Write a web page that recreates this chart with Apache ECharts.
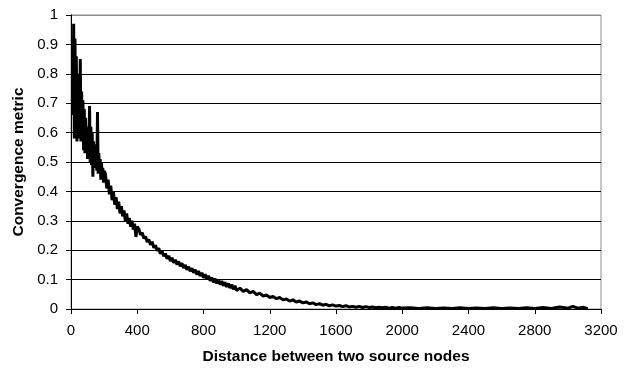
<!DOCTYPE html>
<html lang="en">
<head>
    <meta charset="UTF-8">
    <title>Convergence metric</title>
    <style>
        html, body { margin: 0; padding: 0; background: #fff; }
        #main { width: 639px; height: 370px; }
    </style>
</head>
<body>
<div id="main"></div>
<script src="https://cdn.jsdelivr.net/npm/echarts@6/dist/echarts.min.js"></script>
<script>
    // 距离（横轴）
    var distance = [
        // 12 - 200
        12, 16, 20, 24, 28, 32, 36, 40, 44, 48, 52, 56, 60, 64, 68, 72, 76, 80, 84, 88, 92, 96, 100, 104,
        108, 112, 116, 120, 124, 128, 132, 136, 140, 144, 148, 152, 156, 160, 164, 168, 172, 176, 180, 184, 188, 192, 196, 200,
        // 208 - 400
        208, 216, 224, 232, 240, 248, 256, 264, 272, 280, 288, 296, 304, 312, 320, 328, 336, 344, 352, 360, 368, 376, 384, 392, 400,
        // 410 - 1000
        410, 420, 430, 440, 450, 460, 470, 480, 490, 500, 510, 520, 530, 540, 550, 560, 570, 580, 590, 600,
        610, 620, 630, 640, 650, 660, 670, 680, 690, 700, 710, 720, 730, 740, 750, 760, 770, 780, 790, 800,
        810, 820, 830, 840, 850, 860, 870, 880, 890, 900, 910, 920, 930, 940, 950, 960, 970, 980, 990, 1000,
        // 1020 - 2000
        1020, 1040, 1060, 1080, 1100, 1120, 1140, 1160, 1180, 1200, 1220, 1240, 1260, 1280, 1300, 1320, 1340, 1360, 1380, 1400,
        1420, 1440, 1460, 1480, 1500, 1520, 1540, 1560, 1580, 1600, 1620, 1640, 1660, 1680, 1700, 1720, 1740, 1760, 1780, 1800,
        1820, 1840, 1860, 1880, 1900, 1920, 1940, 1960, 1980, 2000,
        // 2050 - 3120
        2050, 2100, 2150, 2200, 2250, 2300, 2350, 2400, 2450, 2500, 2550, 2600, 2650, 2700, 2750, 2800,
        2850, 2900, 2950, 3000, 3030, 3060, 3090, 3120
    ];
    // 收敛指标（纵轴）
    var metric = [
        0.66, 0.97, 0.58, 0.92, 0.60, 0.86, 0.57, 0.80, 0.62, 0.78, 0.58, 0.85, 0.57, 0.74, 0.60, 0.71, 0.54, 0.68, 0.53, 0.65, 0.55, 0.62, 0.51, 0.60,
        0.52, 0.69, 0.50, 0.62, 0.49, 0.60, 0.45, 0.57, 0.50, 0.56, 0.48, 0.55, 0.47, 0.67, 0.46, 0.53, 0.47, 0.51, 0.44, 0.50, 0.45, 0.48, 0.43, 0.47,
        0.46, 0.41, 0.44, 0.39, 0.42, 0.37, 0.40, 0.355, 0.38, 0.34, 0.365, 0.325, 0.35, 0.315, 0.335, 0.30, 0.325, 0.29, 0.31, 0.28, 0.30, 0.27, 0.29, 0.245, 0.28,
        0.272, 0.252, 0.260, 0.240, 0.247, 0.228, 0.237, 0.218, 0.229, 0.208, 0.217, 0.198, 0.207, 0.188, 0.197, 0.179, 0.189, 0.171, 0.181, 0.163,
        0.174, 0.157, 0.168, 0.151, 0.162, 0.145, 0.156, 0.139, 0.150, 0.133, 0.144, 0.128, 0.139, 0.123, 0.134, 0.117, 0.129, 0.112, 0.123, 0.106,
        0.118, 0.101, 0.113, 0.096, 0.107, 0.091, 0.103, 0.087, 0.099, 0.083, 0.095, 0.079, 0.091, 0.075, 0.087, 0.071, 0.083, 0.067, 0.079, 0.063,
        0.071, 0.060, 0.066, 0.055, 0.060, 0.049, 0.054, 0.044, 0.048, 0.039, 0.043, 0.035, 0.039, 0.031, 0.034, 0.027, 0.031, 0.024, 0.027, 0.021,
        0.024, 0.018, 0.021, 0.015, 0.018, 0.013, 0.016, 0.011, 0.014, 0.010, 0.012, 0.008, 0.011, 0.007, 0.009, 0.006, 0.009, 0.005, 0.008, 0.005,
        0.007, 0.004, 0.006, 0.004, 0.006, 0.003, 0.005, 0.003, 0.005, 0.003,
        0.004, 0.002, 0.004, 0.002, 0.003, 0.002, 0.004, 0.002, 0.003, 0.002, 0.004, 0.002, 0.003, 0.002, 0.004, 0.002,
        0.005, 0.002, 0.007, 0.003, 0.009, 0.003, 0.006, 0.001
    ];
    var xTicks = { min: 0, max: 3200, step: 400 };
    var yTicks = { min: 0, max: 1, step: 0.1 };

    var points = distance.map(function (d, i) { return [d, metric[i]]; });

    var font = '"Liberation Sans", Arial, sans-serif';
    // 最上面一条网格线是灰色的（图区边框）
    var gridColors = ['#000', '#000', '#000', '#000', '#000', '#000', '#000', '#000', '#000', '#000', '#8c8c8c'];

    var myChart = echarts.init(document.getElementById('main'));

    var option = {
        animation: false,
        backgroundColor: '#fff',
        grid: {
            left: 71, right: 38, top: 15, bottom: 61,
            show: true,
            borderColor: '#8c8c8c',
            borderWidth: 1
        },
        xAxis: {
            type: 'value',
            min: xTicks.min, max: xTicks.max, interval: xTicks.step,
            name: 'Distance between two source nodes',
            nameLocation: 'middle',
            nameGap: 40,
            nameTextStyle: { fontFamily: font, fontWeight: 'bold', fontSize: 15.5, color: '#000' },
            axisLine: { lineStyle: { color: '#000', width: 1 } },
            axisTick: { length: 5, lineStyle: { color: '#000' } },
            axisLabel: {
                fontFamily: font, fontSize: 15, color: '#000', margin: 14,
                formatter: function (v) { return String(v); }
            },
            splitLine: { show: false }
        },
        yAxis: {
            type: 'value',
            min: yTicks.min, max: yTicks.max, interval: yTicks.step,
            name: 'Convergence metric',
            nameLocation: 'middle',
            nameGap: 40,
            nameTextStyle: { fontFamily: font, fontWeight: 'bold', fontSize: 15.5, color: '#000' },
            axisLine: { show: true, lineStyle: { color: '#000', width: 1 } },
            axisTick: { show: true, length: 5, lineStyle: { color: '#000' } },
            axisLabel: { fontFamily: font, fontSize: 15, color: '#000', margin: 13 },
            splitLine: { show: true, lineStyle: { color: gridColors, width: 1 } }
        },
        series: [{
            type: 'line',
            data: points,
            showSymbol: false,
            symbol: 'none',
            lineStyle: { color: '#000', width: 3 },
            z: 3
        }]
    };

    myChart.setOption(option);
</script>
</body>
</html>
